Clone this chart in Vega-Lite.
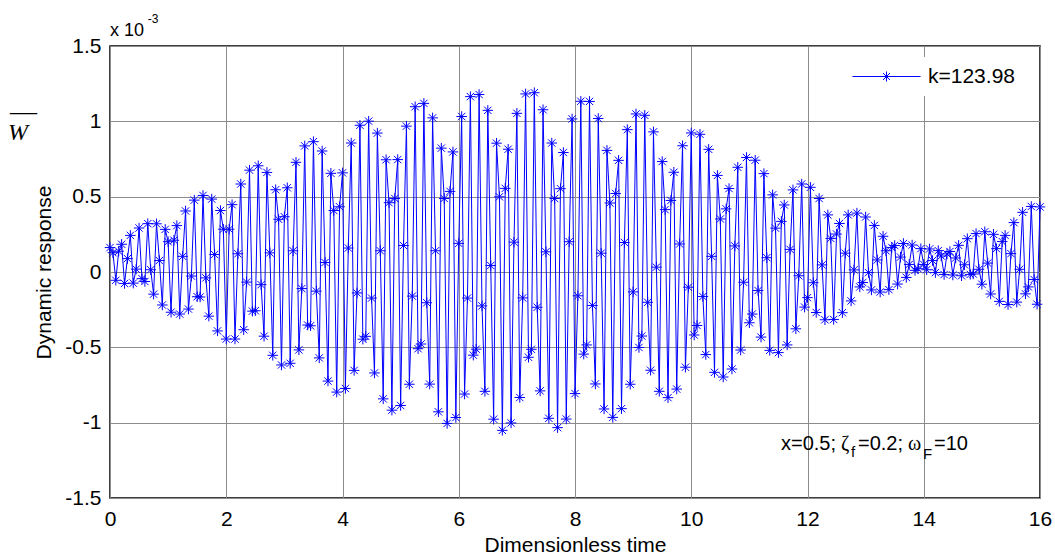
{
  "$schema": "https://vega.github.io/schema/vega-lite/v6.json",
  "width": 930,
  "height": 452,
  "autosize": {"type": "none"},
  "padding": {"left": 110, "top": 46, "right": 15, "bottom": 57},
  "background": "#ffffff",
  "config": {
    "font": "Liberation Sans",
    "view": {"stroke": "#000000", "strokeWidth": 1.5},
    "axis": {"labelFont": "Liberation Sans", "titleFont": "Liberation Sans", "labelFontSize": 21, "titleFontSize": 21, "titleFontWeight": "normal", "labelColor": "#000000", "titleColor": "#000000", "ticks": false, "tickSize": 0, "domain": false, "grid": true, "gridColor": "#8c8c8c", "gridWidth": 1, "labelFlush": false, "labelOverlap": false},
    "legend": {"labelFont": "Liberation Sans"}
  },
  "data": {"values": [
    {"t":0,"w":0.162},{"t":0.05,"w":0.128},{"t":0.1,"w":-0.055},{"t":0.15,"w":0.138},{"t":0.2,"w":0.184},{"t":0.25,"w":-0.076},{"t":0.3,"w":0.089},{"t":0.35,"w":0.243},{"t":0.4,"w":-0.074},{"t":0.45,"w":0.019},
    {"t":0.5,"w":0.292},{"t":0.55,"w":-0.044},{"t":0.6,"w":-0.063},{"t":0.65,"w":0.321},{"t":0.7,"w":0.015},{"t":0.75,"w":-0.147},{"t":0.8,"w":0.320},{"t":0.85,"w":0.076},{"t":0.9,"w":-0.219},{"t":0.95,"w":0.283},
    {"t":1,"w":0.201},{"t":1.05,"w":-0.267},{"t":1.1,"w":0.211},{"t":1.15,"w":0.308},{"t":1.2,"w":-0.279},{"t":1.25,"w":0.104},{"t":1.3,"w":0.405},{"t":1.35,"w":-0.246},{"t":1.4,"w":-0.027},{"t":1.45,"w":0.477},
    {"t":1.5,"w":-0.164},{"t":1.55,"w":-0.166},{"t":1.6,"w":0.508},{"t":1.65,"w":-0.039},{"t":1.7,"w":-0.293},{"t":1.75,"w":0.484},{"t":1.8,"w":0.116},{"t":1.85,"w":-0.391},{"t":1.9,"w":0.408},{"t":1.95,"w":0.284},
    {"t":2,"w":-0.445},{"t":2.05,"w":0.284},{"t":2.1,"w":0.447},{"t":2.15,"w":-0.445},{"t":2.2,"w":0.121},{"t":2.25,"w":0.584},{"t":2.3,"w":-0.383},{"t":2.35,"w":-0.067},{"t":2.4,"w":0.676},{"t":2.45,"w":-0.260},
    {"t":2.5,"w":-0.257},{"t":2.55,"w":0.705},{"t":2.6,"w":-0.084},{"t":2.65,"w":-0.426},{"t":2.7,"w":0.661},{"t":2.75,"w":0.127},{"t":2.8,"w":-0.553},{"t":2.85,"w":0.546},{"t":2.9,"w":0.350},{"t":2.95,"w":-0.617},
    {"t":3,"w":0.367},{"t":3.05,"w":0.559},{"t":3.1,"w":-0.606},{"t":3.15,"w":0.141},{"t":3.2,"w":0.728},{"t":3.25,"w":-0.517},{"t":3.3,"w":-0.110},{"t":3.35,"w":0.837},{"t":3.4,"w":-0.352},{"t":3.45,"w":-0.357},
    {"t":3.5,"w":0.865},{"t":3.55,"w":-0.127},{"t":3.6,"w":-0.570},{"t":3.65,"w":0.803},{"t":3.7,"w":0.063},{"t":3.75,"w":-0.724},{"t":3.8,"w":0.655},{"t":3.85,"w":0.408},{"t":3.9,"w":-0.797},{"t":3.95,"w":0.433},
    {"t":4,"w":0.658},{"t":4.05,"w":-0.773},{"t":4.1,"w":0.159},{"t":4.15,"w":0.856},{"t":4.2,"w":-0.653},{"t":4.25,"w":-0.139},{"t":4.3,"w":0.974},{"t":4.35,"w":-0.446},{"t":4.4,"w":-0.427},{"t":4.45,"w":1.001},
    {"t":4.5,"w":-0.173},{"t":4.55,"w":-0.670},{"t":4.6,"w":0.922},{"t":4.65,"w":0.141},{"t":4.7,"w":-0.842},{"t":4.75,"w":0.745},{"t":4.8,"w":0.460},{"t":4.85,"w":-0.917},{"t":4.9,"w":0.488},{"t":4.95,"w":0.746},
    {"t":5,"w":-0.886},{"t":5.05,"w":0.176},{"t":5.1,"w":0.968},{"t":5.15,"w":-0.745},{"t":5.2,"w":-0.160},{"t":5.25,"w":1.097},{"t":5.3,"w":-0.509},{"t":5.35,"w":-0.478},{"t":5.4,"w":1.119},{"t":5.45,"w":-0.204},
    {"t":5.5,"w":-0.744},{"t":5.55,"w":1.023},{"t":5.6,"w":0.141},{"t":5.65,"w":-0.928},{"t":5.7,"w":0.822},{"t":5.75,"w":0.488},{"t":5.8,"w":-1.005},{"t":5.85,"w":0.535},{"t":5.9,"w":0.797},{"t":5.95,"w":-0.966},
    {"t":6,"w":0.190},{"t":6.05,"w":1.032},{"t":6.1,"w":-0.810},{"t":6.15,"w":-0.173},{"t":6.2,"w":1.164},{"t":6.25,"w":-0.552},{"t":6.3,"w":-0.512},{"t":6.35,"w":1.178},{"t":6.4,"w":-0.225},{"t":6.45,"w":-0.792},
    {"t":6.5,"w":1.073},{"t":6.55,"w":0.043},{"t":6.6,"w":-0.977},{"t":6.65,"w":0.855},{"t":6.7,"w":0.499},{"t":6.75,"w":-1.051},{"t":6.8,"w":0.555},{"t":6.85,"w":0.815},{"t":6.9,"w":-1.002},{"t":6.95,"w":0.198},
    {"t":7,"w":1.053},{"t":7.05,"w":-0.833},{"t":7.1,"w":-0.172},{"t":7.15,"w":1.182},{"t":7.2,"w":-0.566},{"t":7.25,"w":-0.513},{"t":7.3,"w":1.190},{"t":7.35,"w":-0.234},{"t":7.4,"w":-0.789},{"t":7.45,"w":1.077},
    {"t":7.5,"w":0.134},{"t":7.55,"w":-0.971},{"t":7.6,"w":0.856},{"t":7.65,"w":0.488},{"t":7.7,"w":-1.033},{"t":7.75,"w":0.553},{"t":7.8,"w":0.793},{"t":7.85,"w":-0.976},{"t":7.9,"w":0.201},{"t":7.95,"w":1.016},
    {"t":8,"w":-0.807},{"t":8.05,"w":-0.158},{"t":8.1,"w":1.133},{"t":8.15,"w":-0.545},{"t":8.2,"w":-0.484},{"t":8.25,"w":1.132},{"t":8.3,"w":-0.222},{"t":8.35,"w":-0.743},{"t":8.4,"w":1.019},{"t":8.45,"w":0.125},
    {"t":8.5,"w":-0.909},{"t":8.55,"w":0.807},{"t":8.6,"w":0.458},{"t":8.65,"w":-0.965},{"t":8.7,"w":0.521},{"t":8.75,"w":0.741},{"t":8.8,"w":-0.907},{"t":8.85,"w":0.196},{"t":8.9,"w":0.945},{"t":8.95,"w":-0.745},
    {"t":9,"w":-0.132},{"t":9.05,"w":1.049},{"t":9.1,"w":-0.501},{"t":9.15,"w":-0.425},{"t":9.2,"w":1.040},{"t":9.25,"w":-0.201},{"t":9.3,"w":-0.652},{"t":9.35,"w":0.930},{"t":9.4,"w":0.032},{"t":9.45,"w":-0.792},
    {"t":9.5,"w":0.733},{"t":9.55,"w":0.414},{"t":9.6,"w":-0.834},{"t":9.65,"w":0.475},{"t":9.7,"w":0.662},{"t":9.75,"w":-0.777},{"t":9.8,"w":0.186},{"t":9.85,"w":0.838},{"t":9.9,"w":-0.632},{"t":9.95,"w":-0.101},
    {"t":10,"w":0.923},{"t":10.05,"w":-0.418},{"t":10.1,"w":-0.355},{"t":10.15,"w":0.914},{"t":10.2,"w":-0.163},{"t":10.25,"w":-0.548},{"t":10.3,"w":0.814},{"t":10.35,"w":0.104},{"t":10.4,"w":-0.666},{"t":10.45,"w":0.641},
    {"t":10.5,"w":0.352},{"t":10.55,"w":-0.697},{"t":10.6,"w":0.419},{"t":10.65,"w":0.554},{"t":10.7,"w":-0.644},{"t":10.75,"w":0.173},{"t":10.8,"w":0.695},{"t":10.85,"w":-0.518},{"t":10.9,"w":-0.068},{"t":10.95,"w":0.760},
    {"t":11,"w":-0.337},{"t":11.05,"w":-0.279},{"t":11.1,"w":0.742},{"t":11.15,"w":-0.123},{"t":11.2,"w":-0.432},{"t":11.25,"w":0.653},{"t":11.3,"w":0.095},{"t":11.35,"w":-0.520},{"t":11.4,"w":0.512},{"t":11.45,"w":0.291},
    {"t":11.5,"w":-0.535},{"t":11.55,"w":0.336},{"t":11.6,"w":0.445},{"t":11.65,"w":-0.484},{"t":11.7,"w":0.150},{"t":11.75,"w":0.545},{"t":11.8,"w":-0.377},{"t":11.85,"w":-0.025},{"t":11.9,"w":0.584},{"t":11.95,"w":-0.233},
    {"t":12,"w":-0.170},{"t":12.05,"w":0.562},{"t":12.1,"w":-0.071},{"t":12.15,"w":-0.269},{"t":12.2,"w":0.488},{"t":12.25,"w":0.047},{"t":12.3,"w":-0.317},{"t":12.35,"w":0.379},{"t":12.4,"w":0.223},{"t":12.45,"w":-0.315},
    {"t":12.5,"w":0.252},{"t":12.55,"w":0.322},{"t":12.6,"w":-0.270},{"t":12.65,"w":0.125},{"t":12.7,"w":0.379},{"t":12.75,"w":-0.192},{"t":12.8,"w":0.014},{"t":12.85,"w":0.391},{"t":12.9,"w":-0.099},{"t":12.95,"w":-0.070},
    {"t":13,"w":0.365},{"t":13.05,"w":-0.004},{"t":13.1,"w":-0.119},{"t":13.15,"w":0.309},{"t":13.2,"w":0.080},{"t":13.25,"w":-0.133},{"t":13.3,"w":0.237},{"t":13.35,"w":0.141},{"t":13.4,"w":-0.117},{"t":13.45,"w":0.163},
    {"t":13.5,"w":0.176},{"t":13.55,"w":-0.080},{"t":13.6,"w":0.099},{"t":13.65,"w":0.189},{"t":13.7,"w":-0.036},{"t":13.75,"w":0.050},{"t":13.8,"w":0.179},{"t":13.85,"w":0.011},{"t":13.9,"w":0.022},{"t":13.95,"w":0.155},
    {"t":14,"w":0.050},{"t":14.05,"w":0.015},{"t":14.1,"w":0.153},{"t":14.15,"w":0.076},{"t":14.2,"w":-0.004},{"t":14.25,"w":0.142},{"t":14.3,"w":0.106},{"t":14.35,"w":-0.017},{"t":14.4,"w":0.120},{"t":14.45,"w":0.136},
    {"t":14.5,"w":-0.020},{"t":14.55,"w":0.093},{"t":14.6,"w":0.177},{"t":14.65,"w":-0.025},{"t":14.7,"w":0.048},{"t":14.75,"w":0.221},{"t":14.8,"w":-0.016},{"t":14.85,"w":-0.013},{"t":14.9,"w":0.255},{"t":14.95,"w":0.018},
    {"t":15,"w":-0.081},{"t":15.05,"w":0.267},{"t":15.1,"w":0.059},{"t":15.15,"w":-0.146},{"t":15.2,"w":0.250},{"t":15.25,"w":0.155},{"t":15.3,"w":-0.195},{"t":15.35,"w":0.202},{"t":15.4,"w":0.243},{"t":15.45,"w":-0.216},
    {"t":15.5,"w":0.122},{"t":15.55,"w":0.328},{"t":15.6,"w":-0.200},{"t":15.65,"w":0.018},{"t":15.7,"w":0.396},{"t":15.75,"w":-0.145},{"t":15.8,"w":-0.099},{"t":15.85,"w":0.435},{"t":15.9,"w":-0.050},{"t":15.95,"w":-0.214},
    {"t":16,"w":0.432}
  ]},
  "layer": [
    {
      "mark": {"type": "line", "strokeWidth": 1, "interpolate": "linear"},
      "encoding": {
        "x": {"field": "t", "type": "quantitative", "scale": {"domain": [0, 16], "nice": false, "zero": false},
              "axis": {"values": [0, 2, 4, 6, 8, 10, 12, 14, 16], "labelExpr": "'' + datum.value", "title": "Dimensionless time", "labelPadding": 10, "titleX": 465, "titleY": 53, "titleAlign": "center", "titleBaseline": "alphabetic"}},
        "y": {"field": "w", "type": "quantitative", "scale": {"domain": [-1.5, 1.5], "nice": false, "zero": false},
              "axis": {"values": [-1.5, -1, -0.5, 0, 0.5, 1, 1.5], "labelExpr": "'' + datum.value", "title": "Dynamic response", "labelPadding": 9, "titleX": -60, "titleY": 226, "titleAngle": -90, "titleAlign": "center", "titleBaseline": "alphabetic"}},
        "color": {"datum": "k=123.98", "type": "nominal", "scale": {"range": ["#0000ff"]},
                  "legend": {"orient": "none", "legendX": 733, "legendY": 11, "title": null,
                             "symbolType": "M-1,0L5.8,0M2.4,-0.5L2.4,0.5M1.9,0L2.9,0M2.05,-0.35L2.75,0.35M2.05,0.35L2.75,-0.35",
                             "symbolSize": 400, "symbolStrokeWidth": 1, "symbolStrokeColor": "#0000ff", "symbolFillColor": "transparent",
                             "labelFontSize": 21, "labelColor": "#000000", "labelOffset": 55, "padding": 9, "fillColor": "#ffffff"}}
      }
    },
    {
      "mark": {"type": "point", "shape": "M0,-1L0,1M-1,0L1,0M-0.7,-0.7L0.7,0.7M-0.7,0.7L0.7,-0.7", "size": 110, "filled": false, "color": "#0000ff", "strokeWidth": 1, "opacity": 1},
      "encoding": {
        "x": {"field": "t", "type": "quantitative", "scale": {"domain": [0, 16], "nice": false, "zero": false},
              "axis": {"values": [0, 2, 4, 6, 8, 10, 12, 14, 16], "labelExpr": "'' + datum.value", "title": "Dimensionless time", "labelPadding": 10, "titleX": 465, "titleY": 53, "titleAlign": "center", "titleBaseline": "alphabetic"}},
        "y": {"field": "w", "type": "quantitative", "scale": {"domain": [-1.5, 1.5], "nice": false, "zero": false},
              "axis": {"values": [-1.5, -1, -0.5, 0, 0.5, 1, 1.5], "labelExpr": "'' + datum.value", "title": "Dynamic response", "labelPadding": 9, "titleX": -60, "titleY": 226, "titleAngle": -90, "titleAlign": "center", "titleBaseline": "alphabetic"}}
      }
    },
    {
      "data": {"values": [{}]},
      "mark": {"type": "text", "align": "left", "baseline": "alphabetic", "fontSize": 18, "font": "Liberation Sans", "color": "#000000"},
      "encoding": {
        "x": {"datum": 0, "type": "quantitative"},
        "y": {"datum": 1.566, "type": "quantitative"},
        "text": {"value": "x 10"}
      }
    },
    {
      "data": {"values": [{}]},
      "mark": {"type": "text", "align": "left", "baseline": "alphabetic", "fontSize": 12, "font": "Liberation Sans", "color": "#000000"},
      "encoding": {
        "x": {"datum": 0.65, "type": "quantitative"},
        "y": {"datum": 1.653, "type": "quantitative"},
        "text": {"value": "-3"}
      }
    },
    {
      "data": {"values": [{}]},
      "mark": {"type": "text", "align": "left", "baseline": "alphabetic", "fontSize": 24, "font": "Liberation Serif", "fontStyle": "italic", "color": "#000000"},
      "encoding": {
        "x": {"datum": -1.755, "type": "quantitative"},
        "y": {"datum": 0.876, "type": "quantitative"},
        "text": {"value": "W"}
      }
    },
    {
      "data": {"values": [{}]},
      "mark": {"type": "text", "align": "left", "baseline": "alphabetic", "fontSize": 27, "font": "Liberation Serif", "color": "#000000"},
      "encoding": {
        "x": {"datum": -1.72, "type": "quantitative"},
        "y": {"datum": 1.006, "type": "quantitative"},
        "text": {"value": "—"}
      }
    },
    {
      "data": {"values": [{}]},
      "mark": {"type": "text", "align": "left", "baseline": "alphabetic", "fontSize": 20, "font": "Liberation Sans", "color": "#000000"},
      "encoding": {
        "x": {"datum": 11.544, "type": "quantitative"},
        "y": {"datum": -1.181, "type": "quantitative"},
        "text": {"value": "x=0.5;"}
      }
    },
    {
      "data": {"values": [{}]},
      "mark": {"type": "text", "align": "left", "baseline": "alphabetic", "fontSize": 20, "font": "Liberation Serif", "color": "#000000"},
      "encoding": {
        "x": {"datum": 12.576, "type": "quantitative"},
        "y": {"datum": -1.181, "type": "quantitative"},
        "text": {"value": "ζ"}
      }
    },
    {
      "data": {"values": [{}]},
      "mark": {"type": "text", "align": "left", "baseline": "alphabetic", "fontSize": 15, "font": "Liberation Sans", "color": "#000000"},
      "encoding": {
        "x": {"datum": 12.748, "type": "quantitative"},
        "y": {"datum": -1.228, "type": "quantitative"},
        "text": {"value": "f"}
      }
    },
    {
      "data": {"values": [{}]},
      "mark": {"type": "text", "align": "left", "baseline": "alphabetic", "fontSize": 20, "font": "Liberation Sans", "color": "#000000"},
      "encoding": {
        "x": {"datum": 12.869, "type": "quantitative"},
        "y": {"datum": -1.181, "type": "quantitative"},
        "text": {"value": "=0.2;"}
      }
    },
    {
      "data": {"values": [{}]},
      "mark": {"type": "text", "align": "left", "baseline": "alphabetic", "fontSize": 20, "font": "Liberation Serif", "color": "#000000"},
      "encoding": {
        "x": {"datum": 13.729, "type": "quantitative"},
        "y": {"datum": -1.181, "type": "quantitative"},
        "text": {"value": "ω"}
      }
    },
    {
      "data": {"values": [{}]},
      "mark": {"type": "text", "align": "left", "baseline": "alphabetic", "fontSize": 15, "font": "Liberation Sans", "color": "#000000"},
      "encoding": {
        "x": {"datum": 13.987, "type": "quantitative"},
        "y": {"datum": -1.241, "type": "quantitative"},
        "text": {"value": "F"}
      }
    },
    {
      "data": {"values": [{}]},
      "mark": {"type": "text", "align": "left", "baseline": "alphabetic", "fontSize": 20, "font": "Liberation Sans", "color": "#000000"},
      "encoding": {
        "x": {"datum": 14.176, "type": "quantitative"},
        "y": {"datum": -1.181, "type": "quantitative"},
        "text": {"value": "=10"}
      }
    }
  ]
}
